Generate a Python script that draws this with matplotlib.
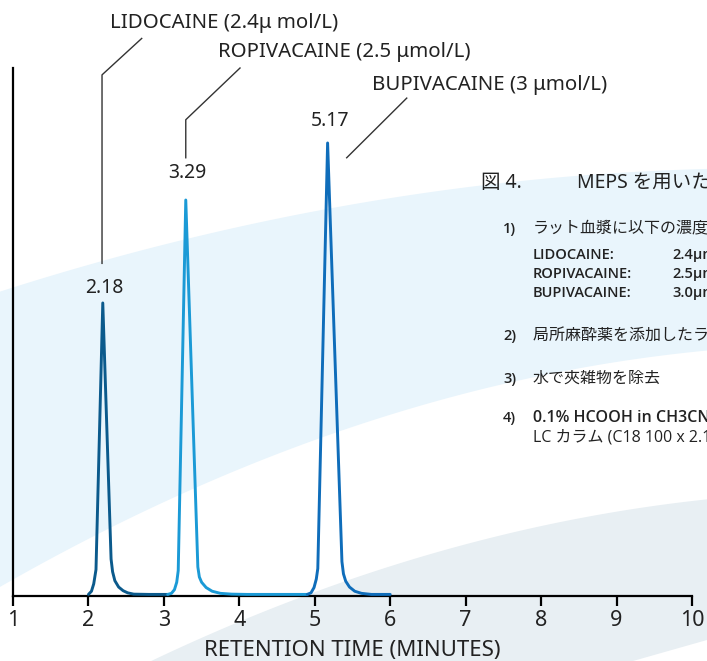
import numpy as np
import matplotlib.pyplot as plt
from matplotlib.patches import Polygon

plt.rcParams['font.family'] = ['Noto Sans', 'Noto Sans CJK JP', 'DejaVu Sans']

# --- data ---
peak_names = ['LIDOCAINE', 'ROPIVACAINE', 'BUPIVACAINE']
peak_conc = ['(2.4\u03bc mol/L)', '(2.5 \u03bcmol/L)', '(3 \u03bcmol/L)']
peak_times = [2.18, 3.29, 5.17]
peak_colors = ['#0b5a8c', '#1b9ad6', '#0f6dba']

lido_t = [2.00, 2.04, 2.07, 2.10, 2.19, 2.30, 2.32, 2.35, 2.40, 2.46, 2.52, 2.60, 2.80, 3.05]
lido_s = [0.3, 0.9, 2.3, 5.0, 55.5, 7.0, 4.6, 2.9, 1.7, 1.0, 0.6, 0.35, 0.3, 0.3]

ropi_t = [3.05, 3.10, 3.14, 3.17, 3.19, 3.29, 3.45, 3.47, 3.50, 3.56, 3.64, 3.75, 3.90, 4.10, 4.90]
ropi_s = [0.3, 0.5, 1.2, 2.6, 4.8, 75.0, 5.5, 3.6, 2.6, 1.6, 0.9, 0.5, 0.35, 0.3, 0.3]

bupi_t = [4.90, 4.95, 4.99, 5.02, 5.04, 5.17, 5.36, 5.38, 5.41, 5.46, 5.53, 5.62, 5.75, 6.00]
bupi_s = [0.3, 0.6, 1.6, 3.2, 5.2, 85.8, 6.5, 4.2, 2.8, 1.7, 0.9, 0.5, 0.3, 0.3]

x_ticks = [1, 2, 3, 4, 5, 6, 7, 8, 9, 10]

# 図4 の説明文
fig_title = ['図 4.', 'MEPS を用いたラット血漿中の局所麻酔薬の分析']
steps = [
    ('1)', 'ラット血漿に以下の濃度で局所麻酔薬を添加'),
    ('2)', '局所麻酔薬を添加したラット血漿を MEPS で抽出'),
    ('3)', '水で夾雑物を除去'),
    ('4)', '0.1% HCOOH in CH3CN で溶出'),
]
conc_rows = [('LIDOCAINE:', '2.4\u00b5mol/L'), ('ROPIVACAINE:', '2.5\u00b5mol/L'),
             ('BUPIVACAINE:', '3.0\u00b5mol/L')]
step4_line2 = 'LC カラム (C18 100 x 2.1 mm) で分析'

W, H = 707, 661
fig = plt.figure(figsize=(W / 100, H / 100), dpi=100)


def fx(px):
    return px / W


def fy(py):
    return 1 - py / H


def edge(pts, x0, x1, n=80):
    # smooth decorative edge through a few reference points
    a, b = zip(*pts)
    c = np.polyfit(a, b, 2)
    xs = np.linspace(x0, x1, n)
    return list(zip(xs, np.polyval(c, xs)))


# background bands (decoration)
blue_top = edge([(0, 293), (160, 243), (320, 210), (480, 188), (707, 168)], 0, 707)
blue_bot = edge([(0, 588), (60, 553), (250, 463), (420, 407), (470, 393), (707, 350)], 0, 707)
grey_top = edge([(150, 661), (250, 617), (313, 593), (380, 573), (480, 537), (707, 500)], 150, 707)
grey_bot = [(707, 640), (633, 661)]
blue_band = blue_top + blue_bot[::-1]
grey_band = grey_top + grey_bot
fig.add_artist(Polygon([(fx(a), fy(b)) for a, b in blue_band], closed=True,
                       transform=fig.transFigure, fc='#e9f5fc', ec='none', zorder=0))
fig.add_artist(Polygon([(fx(a), fy(b)) for a, b in grey_band], closed=True,
                       transform=fig.transFigure, fc='#e8eff3', ec='none', zorder=0))

ax = fig.add_axes([fx(13), fy(596), fx(692) - fx(13), fy(68) - fy(596)])
ax.patch.set_alpha(0)
ax.set_xlim(1, 10)
ax.set_ylim(0, 100)

for t, s, c in zip([lido_t, ropi_t, bupi_t], [lido_s, ropi_s, bupi_s], peak_colors):
    ax.plot(t, s, color=c, lw=2.1, solid_joinstyle='round', solid_capstyle='round', zorder=3)

for sp in ['top', 'right']:
    ax.spines[sp].set_visible(False)
ax.spines['left'].set_linewidth(1.6)
ax.spines['bottom'].set_linewidth(1.6)
ax.set_yticks([])
ax.set_xticks(x_ticks)
ax.tick_params(axis='x', length=7, width=1.6, direction='out', labelsize=15.5, pad=3,
               labelcolor='#222222')
ax.set_xlabel('RETENTION TIME (MINUTES)', fontsize=16, color='#222222', labelpad=6.5)

# peak labels + leader lines
label_pos = [(2.206, 58.3), (3.306, 80.1), (5.209, 90.0)]
for t, (lx, ly) in zip(peak_times, label_pos):
    ax.text(lx, ly, f'{t:.2f}', ha='center', va='center', fontsize=14, color='#222222')

lk = dict(color='#333333', lw=1.0, clip_on=False)
ax.plot([2.18, 2.18, 2.706], [63.0, 98.7, 105.6], **lk)
ax.plot([3.29, 3.29, 4.009], [83.0, 90.2, 100.0], **lk)
ax.plot([5.423, 6.219], [83.0, 94.3], **lk)

name_pos = [(110, 23), (218, 52), (372, 85)]
for (px, py), n, c in zip(name_pos, peak_names, peak_conc):
    fig.text(fx(px), fy(py), f'{n} {c}', ha='left', va='center', fontsize=14.7,
             color='#222222')

# right-hand description (clipped by the figure edge)
tc = '#222222'
semi = ['Open Sans', 'Noto Sans CJK JP', 'DejaVu Sans']
fig.text(fx(481), fy(183), fig_title[0], fontsize=14, va='center', color=tc)
fig.text(fx(577), fy(183), fig_title[1], fontsize=14, va='center', color=tc)

ys = [229, 336, 379, 418]
for (num, txt), y in zip(steps, ys):
    fig.text(fx(503), fy(y), num, fontsize=10.5, va='center', color=tc, weight='semibold',
             family=semi)
    fig.text(fx(533), fy(y), txt, fontsize=11.5, va='center', color=tc, family=semi,
             weight='semibold' if txt[0].isascii() else 'normal')
for (n, v), y in zip(conc_rows, [255, 274, 293]):
    fig.text(fx(533), fy(y), n, fontsize=10.5, va='center', color=tc, weight='semibold',
             family=semi)
    fig.text(fx(672), fy(y), v, fontsize=10.5, va='center', color=tc, weight='semibold',
             family=semi)
fig.text(fx(533), fy(438), step4_line2, fontsize=11.5, va='center', color=tc,
         family=semi)

fig.savefig('out.png', dpi=100)
